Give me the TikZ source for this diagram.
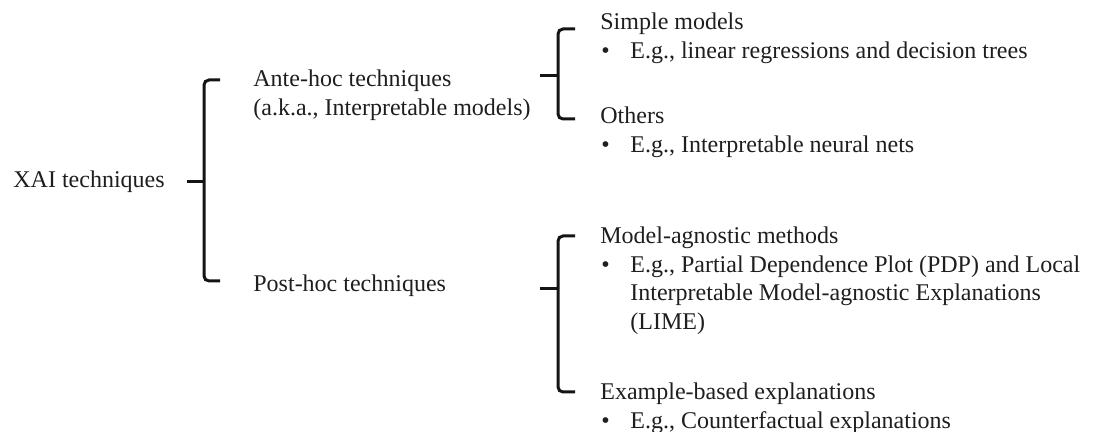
\documentclass[tikz,border=0pt]{standalone}
\usepackage{fontspec}
\setmainfont{Liberation Serif}
\usepackage{tikz}
\usetikzlibrary{positioning, calc}
\definecolor{ink}{RGB}{30,30,30}
\definecolor{bracecol}{RGB}{20,20,20}
\newcommand{\bul}{\hspace{0.5pt}\textbullet}

\begin{document}
\begin{tikzpicture}[x=0.5pt, y=-0.5pt,
        font=\fontsize{12}{14.25}\selectfont, text=ink,
        lbl/.style={anchor=base west, inner sep=0pt},
        brace/.style={draw=bracecol, line width=1.5pt, rounded corners=2.5pt}]
        \useasboundingbox (0,0) rectangle (1093,432);
        \node[lbl] (xai) at (13,188) {XAI techniques};
        \node[lbl] (ante) at (253,87)
          {\begin{tabular}[t]{@{}l@{}}Ante-hoc techniques\\(a.k.a., Interpretable models)\end{tabular}};
        \node[lbl] (post) at (253,292) {Post-hoc techniques};
        \node[lbl] (simple) at (600,30)
          {\begin{tabular}[t]{@{}p{15pt}@{}l@{}}\multicolumn{2}{@{}l}{Simple models}\\
           \bul & E.g., linear regressions and decision trees\end{tabular}};
        \node[lbl] (others) at (600,124)
          {\begin{tabular}[t]{@{}p{15pt}@{}l@{}}\multicolumn{2}{@{}l}{Others}\\
           \bul & E.g., Interpretable neural nets\end{tabular}};
        \node[lbl] (agnostic) at (600,244)
          {\begin{tabular}[t]{@{}p{15pt}@{}l@{}}\multicolumn{2}{@{}l}{Model-agnostic methods}\\
           \bul & E.g., Partial Dependence Plot (PDP) and Local\\
           & Interpretable Model-agnostic Explanations\\
           & (LIME)\end{tabular}};
        \node[lbl] (example) at (600,400)
          {\begin{tabular}[t]{@{}p{15pt}@{}l@{}}\multicolumn{2}{@{}l}{Example-based explanations}\\
           \bul & E.g., Counterfactual explanations\end{tabular}};
        \coordinate (b1t) at (204,80);
        \coordinate (b1b) at (204,281);
        \coordinate (b1m) at (204,182);
        \coordinate (b2t) at (558,29);
        \coordinate (b2b) at (558,119);
        \coordinate (b2m) at (558,76);
        \coordinate (b3t) at (558,236);
        \coordinate (b3b) at (558,392);
        \coordinate (b3m) at (558,289);
        \draw[brace] ($(b1t)+(16,0)$) -- (b1t) -- (b1b) -- ($(b1b)+(16,0)$);
        \draw[brace] ($(b1m)+(-17,0)$) -- (b1m);
        \draw[brace] ($(b2t)+(17,0)$) -- (b2t) -- (b2b) -- ($(b2b)+(17,0)$);
        \draw[brace] ($(b2m)+(-18,0)$) -- (b2m);
        \draw[brace] ($(b3t)+(17,0)$) -- (b3t) -- (b3b) -- ($(b3b)+(17,0)$);
        \draw[brace] ($(b3m)+(-18,0)$) -- (b3m);
      \end{tikzpicture}
\end{document}
